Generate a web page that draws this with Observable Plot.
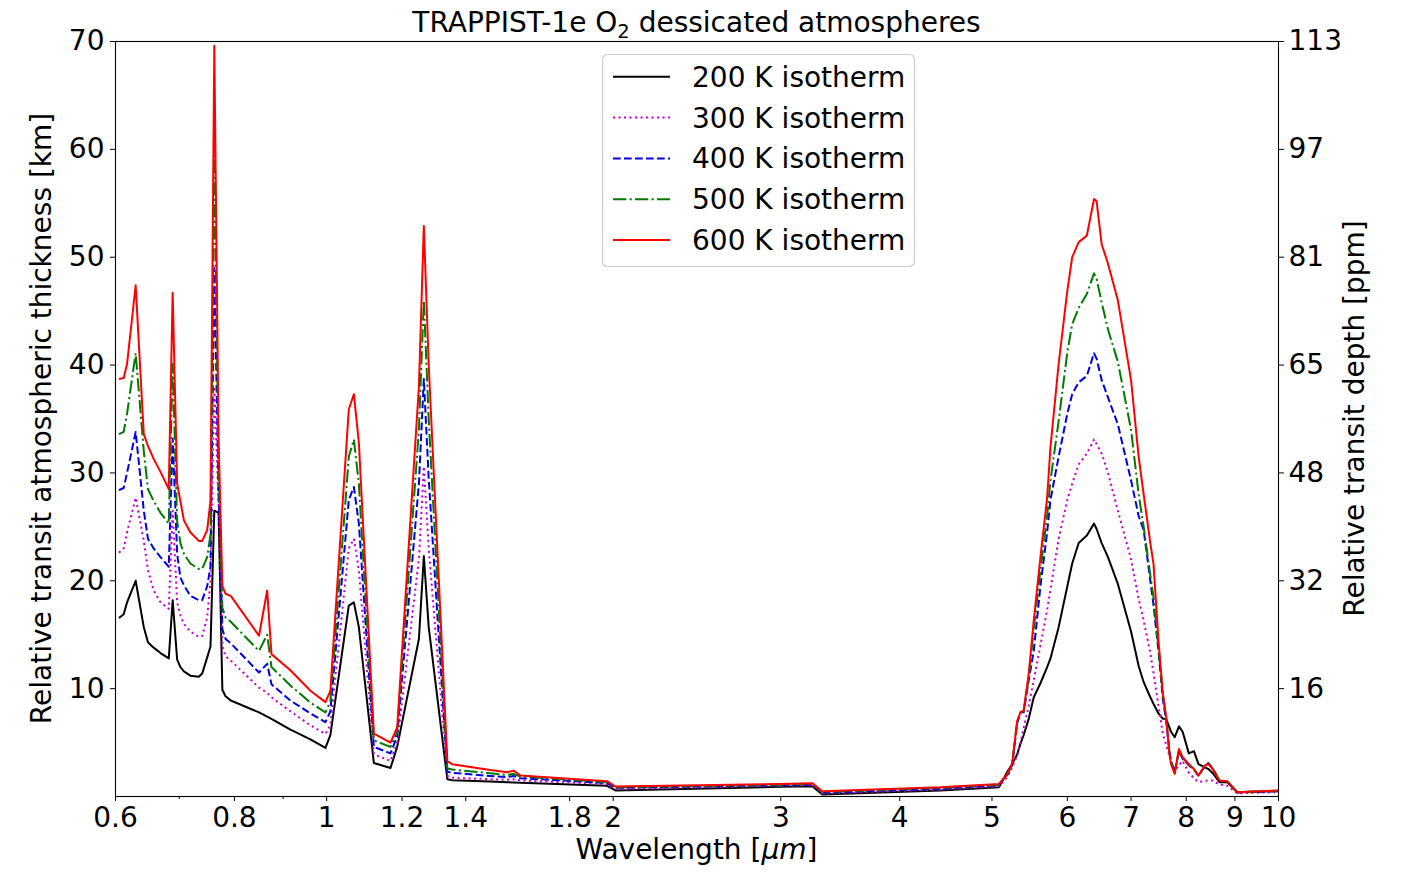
<!DOCTYPE html>
<html><head><meta charset="utf-8">
<script src="https://cdn.jsdelivr.net/npm/d3@7"></script>
<script src="https://cdn.jsdelivr.net/npm/@observablehq/plot@0.6"></script>
<style>body{margin:0;background:#fff;} svg{display:block;}</style>
</head><body><div id="chart"></div>
<script>
const wavelength = [0.605, 0.612, 0.617, 0.630, 0.6425, 0.649, 0.658, 0.669, 0.6825, 0.689,
 0.6965, 0.702, 0.708, 0.719, 0.734, 0.740, 0.749, 0.755, 0.762, 0.770,
 0.777, 0.783, 0.793, 0.849, 0.866, 0.875, 0.916, 0.9615, 0.997, 1.009,
 1.055, 1.068, 1.081, 1.121, 1.167, 1.186, 1.250, 1.265, 1.280, 1.339,
 1.355, 1.486, 1.547, 1.572, 1.598, 1.971, 2.011, 2.997, 3.237, 3.316,
 4.414, 5.085, 5.19, 5.25, 5.314, 5.357, 5.399, 5.465, 5.532, 5.622,
 5.714, 5.76, 5.875, 6.0, 6.071, 6.167, 6.29, 6.40, 6.44, 6.52,
 6.62, 6.78, 7.0, 7.13, 7.217, 7.334, 7.39, 7.48, 7.56, 7.62,
 7.68, 7.71, 7.78, 7.86, 7.93, 8.05, 8.15, 8.24, 8.37, 8.44,
 8.53, 8.67, 8.83, 9.05, 10.0];

const k200 = [16.55, 16.9, 18.0, 20.0, 15.7, 14.3, 13.8, 13.3, 12.8, 18.2,
 12.7, 12.0, 11.6, 11.2, 11.1, 11.4, 12.9, 13.9, 26.5, 26.3,
 9.9, 9.3, 8.9, 7.8, 7.4, 7.2, 6.2, 5.3, 4.5, 5.7,
 17.7, 18.0, 15.7, 3.1, 2.65, 4.6, 14.6, 22.3, 15.7, 1.6,
 1.5, 1.40, 1.32, 1.30, 1.27, 0.99, 0.56, 0.90, 0.96, 0.19,
 0.55, 0.86, 2.3, 3.0, 3.9, 4.9, 5.7, 7.2, 9.2, 10.5,
 12.0, 12.8, 15.7, 19.5, 21.6, 23.5, 24.2, 25.3, 24.8, 23.5,
 22.2, 19.7, 15.3, 12.1, 10.6, 9.2, 8.6, 7.7, 7.2, 7.2,
 6.4, 6.0, 5.5, 6.5, 6.0, 4.0, 4.2, 3.0, 2.7, 2.55,
 2.16, 1.33, 1.33, 0.4, 0.49];

const k300 = [22.6, 23.0, 24.5, 27.7, 23.7, 21.0, 19.1, 18.0, 17.4, 26.5,
 18.0, 16.8, 16.0, 15.3, 14.8, 14.9, 16.6, 20.0, 38.0, 27.0,
 14.0, 13.0, 12.6, 10.1, 9.6, 9.2, 7.9, 6.6, 5.8, 6.6,
 23.0, 23.9, 21.0, 3.9, 3.3, 5.0, 22.0, 30.6, 23.0, 1.9,
 1.75, 1.6, 1.55, 1.6, 1.5, 1.15, 0.7, 1.0, 1.05, 0.28,
 0.65, 0.95, 1.8, 2.7, 3.8, 5.0, 6.4, 8.4, 10.8, 14.0,
 17.3, 19.2, 23.9, 27.5, 29.0, 30.8, 31.8, 33.1, 32.7, 31.8,
 30.0, 26.5, 22.0, 18.3, 16.3, 13.3, 11.5, 8.4, 5.8, 4.8,
 3.8, 3.3, 2.4, 2.9, 3.3, 2.2, 1.7, 1.33, 1.45, 1.48,
 1.48, 1.1, 1.0, 0.3, 0.4];

const k400 = [28.4, 28.6, 30.0, 33.8, 26.5, 23.9, 23.0, 22.2, 21.3, 33.2,
 22.5, 20.3, 19.6, 18.6, 18.2, 18.2, 19.5, 21.3, 49.0, 28.0,
 15.5, 14.6, 14.2, 11.5, 12.3, 10.4, 8.9, 7.7, 6.9, 7.9,
 27.5, 28.7, 25.3, 4.6, 4.0, 5.6, 29.0, 38.7, 29.5, 2.3,
 2.2, 1.9, 1.8, 1.9, 1.7, 1.25, 0.8, 1.05, 1.1, 0.35,
 0.72, 1.05, 2.0, 2.9, 6.8, 7.8, 7.8, 10.8, 13.5, 19.5,
 24.5, 27.5, 31.5, 35.5, 37.3, 38.4, 39.0, 41.1, 40.6, 38.6,
 37.0, 34.5, 29.3, 26.0, 24.7, 20.0, 17.8, 13.5, 9.0, 7.0,
 4.3, 3.3, 2.3, 4.2, 3.5, 2.9, 2.5, 1.9, 2.8, 3.1,
 2.6, 1.45, 1.4, 0.38, 0.52];

const k500 = [33.6, 33.8, 35.5, 41.1, 32.0, 28.5, 27.4, 26.3, 25.3, 40.1,
 25.5, 23.5, 22.5, 21.6, 21.1, 21.1, 22.2, 24.3, 59.4, 30.5,
 17.5, 16.6, 16.2, 13.5, 15.0, 12.0, 10.3, 8.7, 7.8, 8.8,
 31.5, 33.1, 29.0, 5.2, 4.6, 6.0, 34.0, 46.0, 35.0, 2.6,
 2.5, 2.15, 2.0, 2.1, 1.85, 1.33, 0.85, 1.1, 1.17, 0.42,
 0.8, 1.1, 2.05, 2.95, 6.9, 7.8, 7.9, 11.0, 15.5, 21.0,
 26.0, 29.3, 34.8, 41.2, 43.8, 45.3, 46.6, 48.5, 48.0, 45.8,
 43.3, 40.3, 34.0, 28.0, 25.0, 20.5, 18.5, 13.8, 9.5, 7.3,
 4.2, 3.2, 2.2, 4.3, 3.6, 2.95, 2.5, 1.95, 2.85, 3.05,
 2.55, 1.47, 1.42, 0.4, 0.54];

const k600 = [38.7, 38.8, 40.1, 47.4, 33.6, 32.5, 31.3, 30.1, 28.5, 46.7,
 29.0, 27.4, 25.6, 24.5, 23.7, 23.7, 24.7, 27.4, 69.6, 33.0,
 19.5, 18.8, 18.6, 14.9, 19.1, 13.2, 11.7, 9.8, 8.75, 9.8,
 35.9, 37.3, 32.8, 5.84, 5.0, 6.4, 38.0, 52.9, 40.0, 3.27,
 3.0, 2.45, 2.25, 2.4, 1.95, 1.42, 0.93, 1.15, 1.24, 0.49,
 0.86, 1.17, 2.1, 3.0, 7.0, 7.8, 8.0, 11.4, 16.3, 22.2,
 27.7, 32.4, 40.1, 46.9, 50.0, 51.4, 52.0, 55.4, 55.2, 51.2,
 49.4, 46.0, 38.6, 31.5, 28.0, 23.5, 21.6, 14.5, 9.5, 7.4,
 3.96, 3.0, 2.1, 4.4, 3.64, 3.0, 2.55, 1.95, 2.87, 3.0,
 2.55, 1.48, 1.42, 0.4, 0.56];

const seriesNames = ["200 K isotherm", "300 K isotherm", "400 K isotherm", "500 K isotherm", "600 K isotherm"];
const xTicks = [0.6, 0.8, 1, 1.2, 1.4, 1.8, 2, 3, 4, 5, 6, 7, 8, 9, 10];
const xTickLabels = ["0.6", "0.8", "1", "1.2", "1.4", "1.8", "2", "3", "4", "5", "6", "7", "8", "9", "10"];
const xMinorTicks = [0.7, 0.9];
const yTicks = [10, 20, 30, 40, 50, 60, 70];
const ppmLabels = ["16", "32", "48", "65", "81", "97", "113"];

const seriesValues = [k200, k300, k400, k500, k600];
const seriesColors = ["#000000", "#cc00cc", "#0000e6", "#007a00", "#ff0000"];
const seriesDash = [null, "2.1,3.4", "7.7,3.3", "13.3,3.3,2.1,3.3", null];

const data = seriesNames.flatMap((name, s) =>
  wavelength.map((wl, i) => ({wl, km: seriesValues[s][i], series: name})));
const xLabelData = xTicks.map((v, i) => ({v, label: xTickLabels[i]}));

const W = 1401, H = 873, mL = 115, mR = 123, mT = 41, mB = 77;
const FS = 28;

const lineMarks = seriesNames.map((name, s) =>
  Plot.line(data.filter(d => d.series === name), {
    x: "wl", y: "km",
    stroke: seriesColors[s], strokeWidth: 2,
    strokeDasharray: seriesDash[s] || undefined,
    strokeLinecap: "butt", strokeLinejoin: "round"
  }));

const chart = Plot.plot({
  width: W, height: H,
  marginLeft: mL, marginRight: mR, marginTop: mT, marginBottom: mB,
  style: {fontFamily: "DejaVu Sans", fontSize: FS + "px", background: "white", color: "black", overflow: "visible"},
  x: {type: "log", domain: [0.6, 10]},
  y: {domain: [0, 70]},
  marks: [
    ...lineMarks,
    Plot.axisX({ticks: xTicks, tickFormat: () => "", tickSize: 5, label: null}),
    Plot.axisX({ticks: xMinorTicks, tickFormat: () => "", tickSize: 3, label: null}),
    Plot.text(xLabelData, {x: "v", frameAnchor: "bottom", lineAnchor: "top", dy: 11, text: "label", fontSize: FS, textAnchor: "middle", fill: "black"}),
    Plot.axisY({ticks: yTicks, anchor: "left", tickFormat: d => String(d), tickSize: 5, tickPadding: 6, label: null, fontSize: FS}),
    Plot.axisY({ticks: yTicks, anchor: "right", tickFormat: d => ppmLabels[yTicks.indexOf(d)], tickSize: 5, tickPadding: 5, label: null, fontSize: FS}),
    Plot.frame({stroke: "black", strokeWidth: 1.1})
  ]
});

document.getElementById("chart").appendChild(chart);

const svg = d3.select(chart);
const cx = (mL + (W - mR)) / 2;
const cy = (mT + (H - mB)) / 2;
const font = "DejaVu Sans";

// Title
const title = svg.append("text")
  .attr("x", cx).attr("y", 32)
  .attr("text-anchor", "middle")
  .attr("font-family", font).attr("font-size", FS).attr("fill", "black");
title.append("tspan").text("TRAPPIST-1e O");
title.append("tspan").text("2").attr("font-size", 19.5).attr("dy", 6);
title.append("tspan").text(" dessicated atmospheres").attr("font-size", FS).attr("dy", -6);

// X label
const xl = svg.append("text")
  .attr("x", cx).attr("y", 859)
  .attr("text-anchor", "middle")
  .attr("font-family", font).attr("font-size", FS).attr("fill", "black");
xl.append("tspan").text("Wavelength [");
xl.append("tspan").text("μm").attr("font-style", "italic");
xl.append("tspan").text("]");

// Y labels
svg.append("text")
  .attr("transform", `translate(51,${cy}) rotate(-90)`)
  .attr("text-anchor", "middle")
  .attr("font-family", font).attr("font-size", FS).attr("fill", "black")
  .text("Relative transit atmospheric thickness [km]");
svg.append("text")
  .attr("transform", `translate(1364,${cy}) rotate(-90)`)
  .attr("text-anchor", "middle")
  .attr("font-family", font).attr("font-size", FS).attr("fill", "black")
  .text("Relative transit depth [ppm]");

// Legend
const lg = svg.append("g");
lg.append("rect")
  .attr("x", 602.5).attr("y", 54.5).attr("width", 312).attr("height", 212)
  .attr("rx", 5).attr("fill", "white").attr("fill-opacity", 0.8)
  .attr("stroke", "#cccccc").attr("stroke-width", 1.2);
seriesNames.forEach((name, s) => {
  const y = 76.8 + s * 40.8;
  lg.append("line")
    .attr("x1", 613).attr("x2", 670).attr("y1", y).attr("y2", y)
    .attr("stroke", seriesColors[s]).attr("stroke-width", 2)
    .attr("stroke-dasharray", seriesDash[s] || null);
  lg.append("text")
    .attr("x", 692).attr("y", y).attr("dy", "0.36em")
    .attr("text-anchor", "start")
    .attr("font-family", font).attr("font-size", FS).attr("fill", "black")
    .text(name);
});
</script>
</body></html>
